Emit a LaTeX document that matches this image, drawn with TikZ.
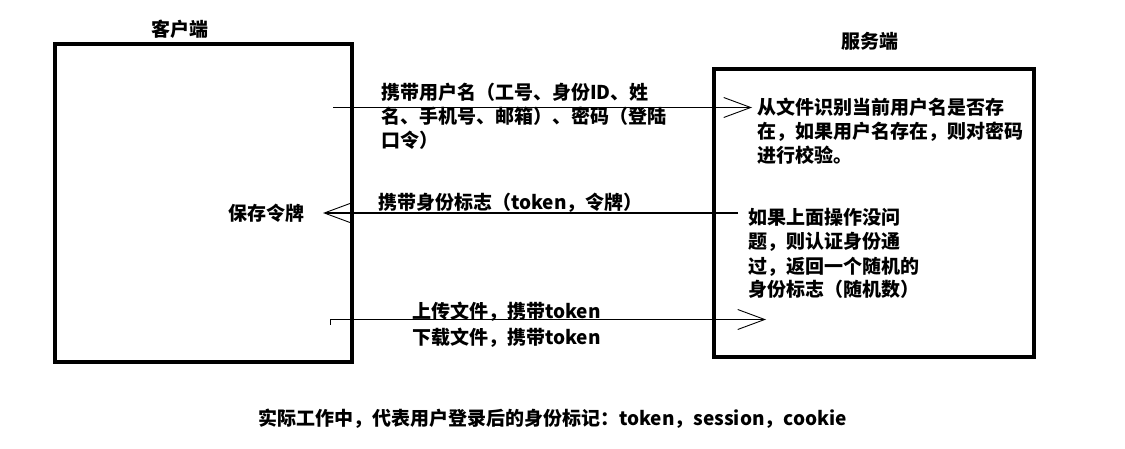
\documentclass[tikz,border=0pt]{standalone}
\usepackage{fontspec}
\setmainfont{Noto Sans CJK SC}
\usetikzlibrary{arrows.meta,positioning}

\tikzset{
  endbox/.style={draw, line width=4pt, inner sep=0pt},
  msg/.style={line width=1.1pt, -{Straight Barb[length=27pt,width=20pt,line width=0.9pt]}},
  note/.style={font=\fontsize{19}{24}\selectfont\bfseries, align=left, inner sep=0pt, anchor=base west},
  title/.style={font=\fontsize{19}{24}\selectfont\bfseries, inner sep=0pt, anchor=base},
}

\begin{document}
\begin{tikzpicture}[x=1pt, y=-1pt]
\useasboundingbox (0,0) rectangle (1125,449);

% Client and server boxes
\node[endbox, minimum width=297pt, minimum height=318pt] (client) at (203.5,203) {};
\node[endbox, minimum width=320pt, minimum height=288pt] (server) at (874,213) {};
\node[title] (client title) at (180,37) {客户端};
\node[title] (server title) at (870,49) {服务端};

% Texts inside the boxes (anchored on the last line)
\node[note] (login text) at (381,148) {携带用户名（工号、身份ID、姓\\名、手机号、邮箱）、密码（登陆\\口令）};
\node[note] (check text) at (757,163) {从文件识别当前用户名是否存\\在，如果用户名存在，则对密码\\进行校验。};
\node[note] (token text) at (378,210) {携带身份标志（token，令牌）};
\node[note] (save text) at (228,221) {保存令牌};
\node[note] (auth text) at (748,297) {如果上面操作没问\\题，则认证身份通\\过，返回一个随机的\\身份标志（随机数）};
\node[note] (upload text) at (412,319) {上传文件，携带token};
\node[note] (download text) at (412,344) {下载文件，携带token};

% Message end points
\coordinate (login start) at (333,107.5);
\coordinate (login end) at (752,107.5);
\coordinate (token start) at (738,213);
\coordinate (token end) at (323,213);
\coordinate (file start) at (330,319.5);
\coordinate (file end) at (766,319.5);
\coordinate (file tick) at (330,325);

% Messages
\draw[msg] (login start) -- (login end);
\draw[msg] (token start) -- (token end);
\draw[msg] (file start) -- (file end);
\draw[line width=0.8pt] (file start) -- (file tick);

% Footnote
\node[note] (footer) at (258,425) {实际工作中，代表用户登录后的身份标记：token，session，cookie};
\end{tikzpicture}
\end{document}
